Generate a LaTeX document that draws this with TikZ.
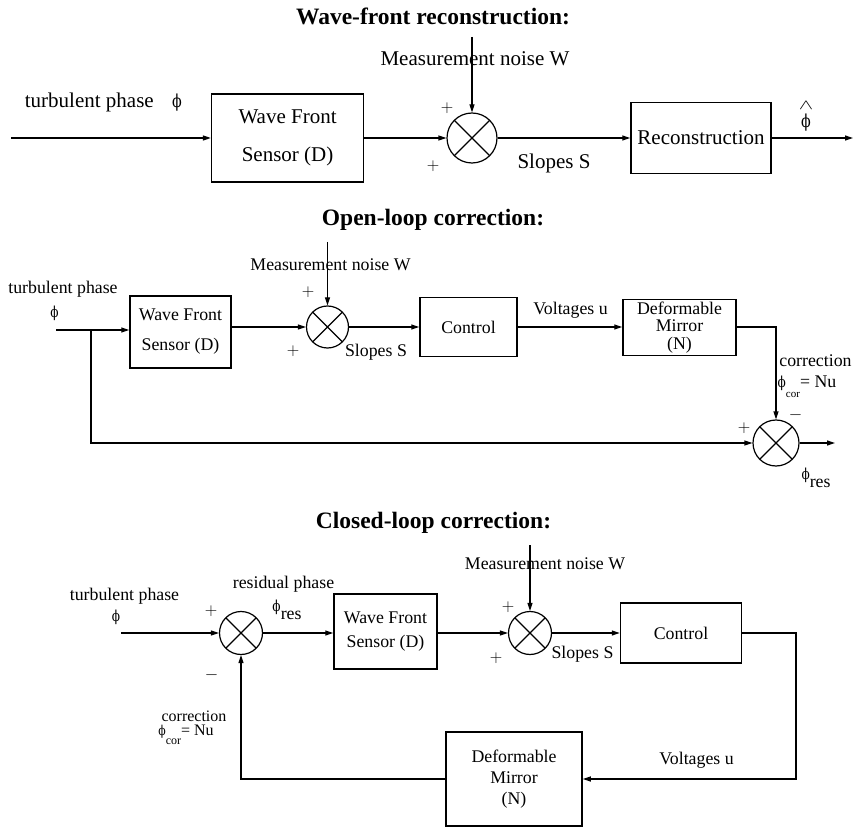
\documentclass[tikz,border=0pt]{standalone}
\usepackage{fontspec}
\usepackage{amsmath,graphicx}
\setmainfont{Liberation Serif}
\newfontfamily\phifont{DejaVu Serif}[FakeStretch=0.8]
\usetikzlibrary{arrows.meta,calc}

\newcommand\titlefont{\fontsize{23.5}{25}\selectfont\bfseries}
\newcommand\largefont{\fontsize{21}{23}\selectfont}
\newcommand\smallfont{\fontsize{17.8}{20}\selectfont}
\newcommand\ph{{\phifont\fontsize{0.85em}{1em}\selectfont ϕ}}
\newcommand\sgn[1]{{\fontsize{18}{18}\selectfont$#1$}}

\tikzset{
  blockbox/.style={draw, line width=1.5pt, inner sep=0pt, align=center},
  sumnode/.style={circle, draw, line width=1.2pt, inner sep=0pt, minimum size=#1,
    path picture={\draw[line width=1.2pt]
      (path picture bounding box.north west) -- (path picture bounding box.south east)
      (path picture bounding box.north east) -- (path picture bounding box.south west);}},
  flow/.style={line width=1.2pt, -{Triangle[length=8pt,width=5pt]}},
  txt/.style={inner sep=0pt}
}

\begin{document}
\begin{tikzpicture}[x=1pt,y=-1pt]
\useasboundingbox (0,0) rectangle (855,829);

% wave-front reconstruction
\node[txt, font=\titlefont] (t1) at (433,16) {Wave-front reconstruction:};
\coordinate (in1) at (11,138);
\coordinate (w1) at (472,37);
\coordinate (out1) at (853,138);
\node[blockbox, minimum width=152pt, minimum height=88pt, font={\fontsize{21}{37.7}\selectfont}] (wfs1) at (287.6,138) {Wave Front\\Sensor (D)};
\node[sumnode=50pt] (sum1) at (472,138) {};
\node[blockbox, minimum width=140pt, minimum height=71pt, font=\largefont] (rec1) at (701,138) {Reconstruction};
\draw[flow] (in1) -- (wfs1);
\draw[flow] (wfs1) -- (sum1);
\draw[flow] (w1) -- (sum1);
\draw[flow] (sum1) -- (rec1);
\draw[flow] (rec1) -- (out1);
\begin{scope}[every node/.style={txt, font=\largefont}]
  \node (tp1) at (89.3,102) {turbulent phase};
  \node (phi1) at (177,103) {\ph};
  \node (nw1) at (475,59) {Measurement noise W};
  \node (p1a) at (447,108) {\sgn{+}};
  \node (p1b) at (433,166) {\sgn{+}};
  \node (sl1) at (554,163) {Slopes S};
  \node (hat1) at (806,115) {$\overset{\hbox{\scalebox{1.5}[1]{$\scriptstyle\wedge$}}}{\hbox{\ph}}$};
\end{scope}

% open-loop correction
\node[txt, font=\titlefont] (t2) at (433,220) {Open-loop correction:};
\coordinate (in2) at (56,330);
\coordinate (br2) at (91,330);
\coordinate (w2) at (327.5,242);
\coordinate (out2) at (835,443);
\node[blockbox, minimum width=101pt, minimum height=72pt, font={\fontsize{17.8}{30}\selectfont}] (wfs2) at (180.5,332) {Wave Front\\Sensor (D)};
\node[sumnode=42pt] (sum2) at (327.5,327) {};
\node[blockbox, minimum width=97pt, minimum height=59pt, font=\smallfont] (ctl2) at (468.5,327) {Control};
\node[blockbox, minimum width=113pt, minimum height=56pt, font={\fontsize{17.8}{17}\selectfont}] (dm2) at (679.5,327.5) {Deformable\\Mirror\\[1pt](N)};
\node[sumnode=46pt] (res2) at (776,443) {};
\draw[flow] (in2) -- (in2 -| wfs2.west);
\draw[flow] (br2) |- (res2);
\draw[flow] (wfs2.east |- sum2) -- (sum2);
\draw[flow] (w2) -- (sum2);
\draw[flow] (sum2) -- (ctl2);
\draw[flow] (ctl2) -- (dm2.west |- ctl2);
\draw[flow] (dm2.east |- ctl2) -| (res2);
\draw[flow] (res2) -- (out2);
\begin{scope}[every node/.style={txt, font=\smallfont}]
  \node (nw2) at (330.5,265) {Measurement noise W};
  \node (tp2) at (63,289) {turbulent phase};
  \node (phi2) at (54.5,313) {\ph};
  \node (p2a) at (308,292) {\sgn{+}};
  \node (p2b) at (293,351) {\sgn{+}};
  \node (sl2) at (376,352) {Slopes S};
  \node (vu2) at (570.5,310) {Voltages u};
  \node (cr2) at (815.5,361) {correction};
  \node (phc2) at (807,387) {\ph\raisebox{-10pt}{\fontsize{11}{11}\selectfont cor}= Nu};
  \node (m2) at (795.5,415) {\sgn{-}};
  \node (p2c) at (744,428) {\sgn{+}};
  \node (pr2) at (816,478) {\ph\raisebox{-8pt}{res}};
\end{scope}

% closed-loop correction
\node[txt, font=\titlefont] (t3) at (433.5,523) {Closed-loop correction:};
\coordinate (in3) at (121,633);
\coordinate (w3) at (530,545);
\coordinate (rt3) at (796,633);
\node[sumnode=43pt] (sum3) at (241,633) {};
\node[blockbox, minimum width=103pt, minimum height=75pt, font={\fontsize{17.8}{24}\selectfont}] (wfs3) at (385.5,631.5) {Wave Front\\Sensor (D)};
\node[sumnode=43pt] (sum3b) at (530,633) {};
\node[blockbox, minimum width=121pt, minimum height=60pt, font=\smallfont] (ctl3) at (681,633) {Control};
\node[blockbox, minimum width=136pt, minimum height=94pt, font={\fontsize{17.8}{21}\selectfont}] (dm3) at (514,779) {Deformable\\Mirror\\(N)};
\draw[flow] (in3) -- (sum3);
\draw[flow] (sum3) -- (wfs3.west |- sum3);
\draw[flow] (wfs3.east |- sum3b) -- (sum3b);
\draw[flow] (w3) -- (sum3b);
\draw[flow] (sum3b) -- (ctl3);
\draw[flow] (ctl3) -- (rt3) |- (dm3);
\draw[flow] (dm3) -| (sum3);
\begin{scope}[every node/.style={txt, font=\smallfont}]
  \node (nw3) at (545,564) {Measurement noise W};
  \node (rp3) at (283.5,584) {residual phase};
  \node (tp3) at (124.5,596) {turbulent phase};
  \node (phi3) at (116,617) {\ph};
  \node (p3a) at (211,611) {\sgn{+}};
  \node (m3) at (211.5,675) {\sgn{-}};
  \node (pr3) at (287,610) {\ph\raisebox{-8pt}{res}};
  \node (p3b) at (508,607) {\sgn{+}};
  \node (p3c) at (496,658) {\sgn{+}};
  \node (sl3) at (582.5,654) {Slopes S};
  \node (vu3) at (696.5,760) {Voltages u};
  \node[font=\fontsize{16}{17}\selectfont] (cr3) at (194,716) {correction};
  \node[font=\fontsize{16}{17}\selectfont] (phc3) at (186,735) {\ph\raisebox{-9pt}{\fontsize{12}{12}\selectfont cor}= Nu};
\end{scope}
\end{tikzpicture}
\end{document}
